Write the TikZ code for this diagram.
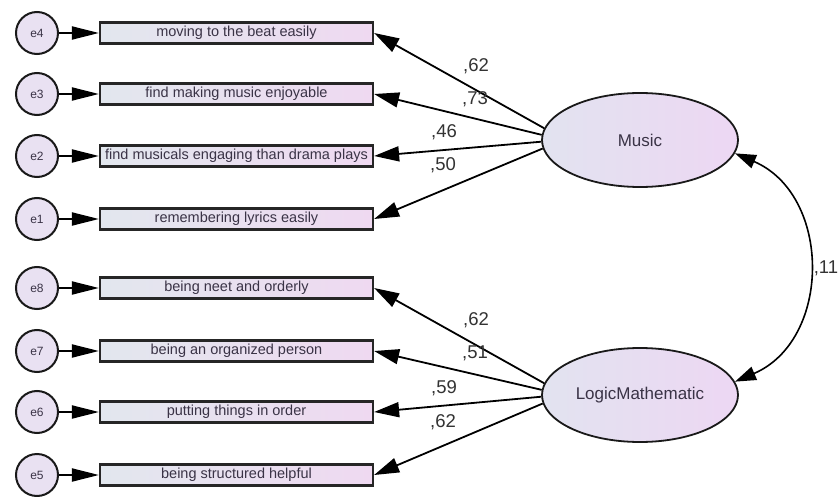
\documentclass[tikz,border=0pt]{standalone}
\usepackage{fontspec}
\setmainfont{Liberation Sans}
\usetikzlibrary{shapes.geometric,arrows.meta}
\definecolor{errfill}{HTML}{E9E1F2}
\definecolor{boxl}{HTML}{E2E7EE}
\definecolor{boxr}{HTML}{EFD9F1}
\definecolor{elll}{HTML}{E2E3F0}
\definecolor{ellr}{HTML}{EDD7F3}
\definecolor{txt}{HTML}{3A3346}
\definecolor{labc}{HTML}{333333}
\begin{document}
\begin{tikzpicture}[x=1pt,y=-1pt,
  err/.style={circle,draw=black!90,line width=2pt,fill=errfill,minimum size=42pt,
    inner sep=0pt,font=\fontsize{12}{12}\selectfont,text=txt},
  item/.style={rectangle,draw=black!85,line width=2.2pt,left color=boxl,right color=boxr,
    minimum width=273pt,minimum height=21pt,inner sep=0pt,
    font=\fontsize{14.5}{14.5}\selectfont,text=txt},
  latent/.style={ellipse,draw=black!90,line width=1.8pt,left color=elll,right color=ellr,
    minimum width=196pt,minimum height=94pt,inner sep=0pt,
    font=\fontsize{17}{17}\selectfont,text=txt},
  errpath/.style={line width=2pt,-{Triangle[length=27pt,width=13pt]}},
  loadpath/.style={line width=1.8pt,-{Triangle[length=25pt,width=15pt]}},
  covpath/.style={line width=1.6pt,{Triangle[length=21pt,width=14pt]}-{Triangle[length=21pt,width=14pt]}},
  coef/.style={font=\fontsize{18.5}{18.5}\selectfont,text=labc}
]
\useasboundingbox (0,0) rectangle (840,497);

% error terms
\node[err] (e4) at (37,33) {e4};
\node[err] (e3) at (37,94) {e3};
\node[err] (e2) at (37,156) {e2};
\node[err] (e1) at (37,219) {e1};
\node[err] (e8) at (37,288) {e8};
\node[err] (e7) at (37,351) {e7};
\node[err] (e6) at (37,412) {e6};
\node[err] (e5) at (37,475) {e5};

% observed items
\node[item] (i4) at (236.5,33) {moving to the beat easily};
\node[item] (i3) at (236.5,94) {find making music enjoyable};
\node[item] (i2) at (236.5,156) {find musicals engaging than drama plays};
\node[item] (i1) at (236.5,219) {remembering lyrics easily};
\node[item] (i8) at (236.5,288) {being neet and orderly};
\node[item] (i7) at (236.5,351) {being an organized person};
\node[item] (i6) at (236.5,412) {putting things in order};
\node[item] (i5) at (236.5,475) {being structured helpful};

% latent factors
\node[latent] (music) at (640,140) {Music};
\node[latent] (logic) at (640,395) {LogicMathematic};

% error paths
\foreach \n in {1,...,8} \draw[errpath] (e\n) -- (i\n.west);

% factor loadings
\draw[loadpath] (music.173) -- (i4.east);
\draw[loadpath] (music.177) -- (i3.east);
\draw[loadpath] (music.181) -- (i2.east);
\draw[loadpath] (music.185) -- (i1.east);
\draw[loadpath] (logic.173) -- (i8.east);
\draw[loadpath] (logic.177) -- (i7.east);
\draw[loadpath] (logic.181) -- (i6.east);
\draw[loadpath] (logic.185) -- (i5.east);

\node[coef] (c4) at (476,66) {,62};
\node[coef] (c3) at (475,99) {,73};
\node[coef] (c2) at (444,132) {,46};
\node[coef] (c1) at (443,165) {,50};
\node[coef] (c8) at (476,320) {,62};
\node[coef] (c7) at (475,353) {,51};
\node[coef] (c6) at (444,388) {,59};
\node[coef] (c5) at (443,422) {,62};

% factor covariance
\draw[covpath] (music.-8) .. controls (832,195) and (832,340) .. (logic.8);
\node[coef] (cov) at (826,268) {,11};
\end{tikzpicture}
\end{document}
